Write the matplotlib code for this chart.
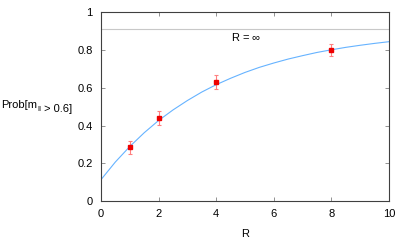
import matplotlib
matplotlib.use("Agg")
import matplotlib.pyplot as plt

plt.rcParams['font.family'] = ['Liberation Sans', 'DejaVu Sans']
plt.rcParams['mathtext.fontset'] = 'custom'
plt.rcParams['mathtext.rm'] = 'Liberation Sans'
plt.rcParams['mathtext.it'] = 'Liberation Sans'

# data points
R_pts = [1, 2, 4, 8]
prob_pts = [0.284, 0.44, 0.631, 0.80]
err_pts = [0.034, 0.037, 0.036, 0.033]

# fitted curve
R_curve = [0, 0.5, 1, 1.5, 2, 2.5, 3, 3.5, 4, 4.5, 5, 5.5, 6, 6.5, 7, 7.5, 8, 8.5, 9, 9.5, 10]
prob_curve = [0.113, 0.207, 0.289, 0.362, 0.427, 0.483, 0.533, 0.578, 0.617, 0.651, 0.682,
              0.709, 0.732, 0.753, 0.771, 0.788, 0.802, 0.815, 0.826, 0.836, 0.845]

R_inf = 0.91
x_ticks = [0, 2, 4, 6, 8, 10]
y_ticks = [0, 0.2, 0.4, 0.6, 0.8, 1]
y_tick_labels = ['0', '0.2', '0.4', '0.6', '0.8', '1']

fig = plt.figure(figsize=(4.07, 2.44), dpi=100)
ax = fig.add_axes([0.248, 0.176, 0.708, 0.773])

ax.axhline(R_inf, color='#c8c8c8', lw=0.8)
ax.plot(R_curve, prob_curve, color='#66b3ff', lw=0.8)
ax.errorbar(R_pts, prob_pts, yerr=err_pts, fmt='s', color='#ee0000', ms=2.2,
            ecolor='#ff8080', elinewidth=0.8, capsize=1.6, capthick=0.8)

ax.text(5.03, 0.87, r'R = $\infty$', fontsize=8, ha='center', va='center')

ax.set_xlim(0, 10)
ax.set_ylim(0, 1)
ax.set_xticks(x_ticks)
ax.set_yticks(y_ticks)
ax.set_yticklabels(y_tick_labels)
ax.tick_params(direction='in', length=3, width=0.6, colors='#808080', labelcolor='black',
               labelsize=8, top=True, right=True, pad=6)
for s in ax.spines.values():
    s.set_color('#404040')
    s.set_linewidth(0.8)

ax.set_xlabel('R', fontsize=8, labelpad=7)

t1 = fig.text(0.003, 1 - 108 / 244, 'Prob[m', fontsize=8, ha='left', va='baseline')
t2 = ax.annotate('ll', xy=(1, 0), xycoords=t1, xytext=(0.2, -1.0), textcoords='offset points',
                 fontsize=6, ha='left', va='baseline', annotation_clip=False)
ax.annotate(' > 0.6]', xy=(1, 0), xycoords=t2, xytext=(0, 1.0), textcoords='offset points',
            fontsize=8, ha='left', va='baseline', annotation_clip=False)

fig.savefig('out.png', dpi=100)
